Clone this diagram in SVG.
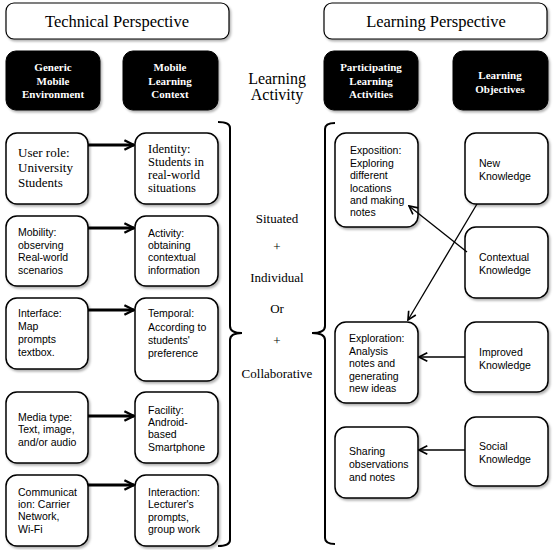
<svg xmlns="http://www.w3.org/2000/svg" width="553" height="550" viewBox="0 0 553 550">
<style>
.box{fill:#fff;stroke:#000;stroke-width:1.5}
.hdr{fill:#fff;stroke:#000;stroke-width:1.2}
.blk{fill:#000;stroke:#000}
.ttl{font-family:"Liberation Serif",serif;font-size:16.5px;fill:#000;text-anchor:middle}
.bt{font-family:"Liberation Serif",serif;font-size:11px;font-weight:bold;fill:#fff;text-anchor:middle}
.ser{font-family:"Liberation Serif",serif;font-size:12.5px;fill:#000}
.san{font-family:"Liberation Sans",sans-serif;font-size:10.5px;fill:#000}
.mid{font-family:"Liberation Serif",serif;font-size:13px;fill:#000;text-anchor:middle}
.act{font-family:"Liberation Serif",serif;font-size:16px;fill:#000;text-anchor:middle}
.thick{stroke:#000;stroke-width:3;fill:none}
.thin{stroke:#000;stroke-width:1.3;fill:none}
.brace{stroke:#000;stroke-width:2;fill:none}
</style>
<defs>
<filter id="sh" x="-10%" y="-10%" width="130%" height="130%">
<feDropShadow dx="1.5" dy="2" stdDeviation="1" flood-color="#000" flood-opacity="0.3"/>
</filter>
<marker id="ah" viewBox="0 0 10 10" refX="9" refY="5" markerWidth="4" markerHeight="4" orient="auto" markerUnits="strokeWidth">
<path d="M1,1 L9,5 L1,9" fill="none" stroke="#000" stroke-width="2"/>
</marker>
<marker id="ahs" viewBox="0 0 10 10" refX="9" refY="5" markerWidth="8" markerHeight="8" orient="auto" markerUnits="strokeWidth">
<path d="M1,1 L9,5 L1,9" fill="none" stroke="#000" stroke-width="1.6"/>
</marker>
</defs>

<g id="technical-perspective">
<rect class="hdr" x="6" y="3" width="223" height="36" rx="8" filter="url(#sh)"/>
<text class="ttl" x="117" y="27">Technical Perspective</text>
</g>
<g id="learning-perspective">
<rect class="hdr" x="324" y="3" width="223" height="36" rx="8" filter="url(#sh)"/>
<text class="ttl" x="436" y="27">Learning Perspective</text>
</g>

<g id="generic-mobile-environment">
<rect class="blk" x="6" y="51" width="94" height="59" rx="10" filter="url(#sh)"/>
<text class="bt" x="53" y="71">Generic</text>
<text class="bt" x="53" y="85">Mobile</text>
<text class="bt" x="53" y="98">Environment</text>
</g>
<g id="mobile-learning-context">
<rect class="blk" x="123" y="51" width="95" height="59" rx="10" filter="url(#sh)"/>
<text class="bt" x="170" y="71">Mobile</text>
<text class="bt" x="170" y="85">Learning</text>
<text class="bt" x="170" y="98">Context</text>
</g>
<g id="learning-activity">
<text class="act" x="277" y="84">Learning</text>
<text class="act" x="277" y="100">Activity</text>
</g>
<g id="participating-learning-activities">
<rect class="blk" x="324" y="51" width="94" height="59" rx="10" filter="url(#sh)"/>
<text class="bt" x="371" y="71">Participating</text>
<text class="bt" x="371" y="85">Learning</text>
<text class="bt" x="371" y="98">Activities</text>
</g>
<g id="learning-objectives">
<rect class="blk" x="453" y="51" width="95" height="59" rx="10" filter="url(#sh)"/>
<text class="bt" x="500" y="79">Learning</text>
<text class="bt" x="500" y="93">Objectives</text>
</g>

<g id="user-role">
<rect class="box" x="6" y="133" width="82" height="71" rx="11" filter="url(#sh)"/>
<text class="ser" x="18" y="157" style="font-size:13px">User role:</text>
<text class="ser" x="18" y="172" style="font-size:13px">University</text>
<text class="ser" x="18" y="187" style="font-size:13px">Students</text>
</g>
<g id="identity">
<rect class="box" x="135" y="133" width="83" height="71" rx="11" filter="url(#sh)"/>
<text class="ser" x="148" y="153">Identity:</text>
<text class="ser" x="148" y="166">Students in</text>
<text class="ser" x="148" y="179">real-world</text>
<text class="ser" x="148" y="192">situations</text>
</g>
<g id="mobility">
<rect class="box" x="6" y="216" width="82" height="70" rx="11" filter="url(#sh)"/>
<text class="san" x="18" y="236">Mobility:</text>
<text class="san" x="18" y="249">observing</text>
<text class="san" x="18" y="261">Real-world</text>
<text class="san" x="18" y="274">scenarios</text>
</g>
<g id="activity">
<rect class="box" x="135" y="216" width="83" height="70" rx="11" filter="url(#sh)"/>
<text class="san" x="148" y="237">Activity:</text>
<text class="san" x="148" y="249">obtaining</text>
<text class="san" x="148" y="261">contextual</text>
<text class="san" x="148" y="274">information</text>
</g>
<g id="interface">
<rect class="box" x="6" y="298" width="82" height="71" rx="11" filter="url(#sh)"/>
<text class="san" x="18" y="317">Interface:</text>
<text class="san" x="18" y="330">Map</text>
<text class="san" x="18" y="343">prompts</text>
<text class="san" x="18" y="356">textbox.</text>
</g>
<g id="temporal">
<rect class="box" x="135" y="298" width="83" height="83" rx="11" filter="url(#sh)"/>
<text class="san" x="148" y="317">Temporal:</text>
<text class="san" x="148" y="331">According to</text>
<text class="san" x="148" y="344">students'</text>
<text class="san" x="148" y="357">preference</text>
</g>
<g id="media-type">
<rect class="box" x="6" y="392" width="82" height="71" rx="11" filter="url(#sh)"/>
<text class="san" x="18" y="421">Media type:</text>
<text class="san" x="18" y="433">Text, image,</text>
<text class="san" x="18" y="446">and/or audio</text>
</g>
<g id="facility">
<rect class="box" x="135" y="392" width="83" height="71" rx="11" filter="url(#sh)"/>
<text class="san" x="148" y="414">Facility:</text>
<text class="san" x="148" y="426">Android-</text>
<text class="san" x="148" y="438">based</text>
<text class="san" x="148" y="451">Smartphone</text>
</g>
<g id="communication">
<rect class="box" x="6" y="475" width="82" height="71" rx="11" filter="url(#sh)"/>
<text class="san" x="18" y="496">Communicat</text>
<text class="san" x="18" y="508">ion: Carrier</text>
<text class="san" x="18" y="520">Network,</text>
<text class="san" x="18" y="533">Wi-Fi</text>
</g>
<g id="interaction">
<rect class="box" x="135" y="475" width="83" height="71" rx="11" filter="url(#sh)"/>
<text class="san" x="148" y="496">Interaction:</text>
<text class="san" x="148" y="508">Lecturer's</text>
<text class="san" x="148" y="521">prompts,</text>
<text class="san" x="148" y="533">group work</text>
</g>

<g id="activity-modes">
<text class="mid" x="277" y="223">Situated</text>
<text class="mid" x="277" y="251">+</text>
<text class="mid" x="277" y="282">Individual</text>
<text class="mid" x="277" y="313">Or</text>
<text class="mid" x="277" y="345">+</text>
<text class="mid" x="277" y="378">Collaborative</text>
</g>

<g id="exposition">
<rect class="box" x="335" y="133" width="83" height="94" rx="11" filter="url(#sh)"/>
<text class="san" x="350" y="154">Exposition:</text>
<text class="san" x="350" y="167">Exploring</text>
<text class="san" x="350" y="179">different</text>
<text class="san" x="350" y="192">locations</text>
<text class="san" x="350" y="204">and making</text>
<text class="san" x="350" y="216">notes</text>
</g>
<g id="new-knowledge">
<rect class="box" x="465" y="133" width="83" height="71" rx="11" filter="url(#sh)"/>
<text class="san" x="479" y="167">New</text>
<text class="san" x="479" y="180">Knowledge</text>
</g>
<g id="contextual-knowledge">
<rect class="box" x="465" y="227" width="83" height="71" rx="11" filter="url(#sh)"/>
<text class="san" x="479" y="261">Contextual</text>
<text class="san" x="479" y="274">Knowledge</text>
</g>
<g id="exploration">
<rect class="box" x="335" y="322" width="83" height="81" rx="11" filter="url(#sh)"/>
<text class="san" x="349" y="342">Exploration:</text>
<text class="san" x="349" y="355">Analysis</text>
<text class="san" x="349" y="367">notes and</text>
<text class="san" x="349" y="380">generating</text>
<text class="san" x="349" y="392">new ideas</text>
</g>
<g id="improved-knowledge">
<rect class="box" x="465" y="322" width="83" height="70" rx="11" filter="url(#sh)"/>
<text class="san" x="479" y="356">Improved</text>
<text class="san" x="479" y="369">Knowledge</text>
</g>
<g id="sharing">
<rect class="box" x="335" y="427" width="83" height="71" rx="11" filter="url(#sh)"/>
<text class="san" x="349" y="455">Sharing</text>
<text class="san" x="349" y="468">observations</text>
<text class="san" x="349" y="481">and notes</text>
</g>
<g id="social-knowledge">
<rect class="box" x="465" y="417" width="83" height="69" rx="11" filter="url(#sh)"/>
<text class="san" x="479" y="450">Social</text>
<text class="san" x="479" y="463">Knowledge</text>
</g>

<g id="connectors">
<line class="thick" x1="88" y1="145" x2="134" y2="145" marker-end="url(#ah)"/>
<line class="thick" x1="88" y1="228" x2="134" y2="228" marker-end="url(#ah)"/>
<line class="thick" x1="88" y1="310" x2="134" y2="310" marker-end="url(#ah)"/>
<line class="thick" x1="88" y1="416" x2="134" y2="416" marker-end="url(#ah)"/>
<line class="thick" x1="88" y1="485" x2="134" y2="485" marker-end="url(#ah)"/>
<line class="thin" x1="467" y1="252" x2="409" y2="206" marker-end="url(#ahs)"/>
<line class="thin" x1="477" y1="204" x2="408" y2="320" marker-end="url(#ahs)"/>
<line class="thin" x1="465" y1="357" x2="419" y2="357" marker-end="url(#ahs)"/>
<line class="thin" x1="465" y1="450" x2="419" y2="450" marker-end="url(#ahs)"/>
<path class="brace" d="M218,122 Q230,122 230,128 L230,326 Q230,333 242,333 Q230,333 230,340 L230,540 Q230,546 218,546"/>
<path class="brace" d="M335,123 Q325,123 325,129 L325,326 Q325,333 312,333 Q325,333 325,340 L325,538 Q325,544 335,544"/>
</g>
</svg>
